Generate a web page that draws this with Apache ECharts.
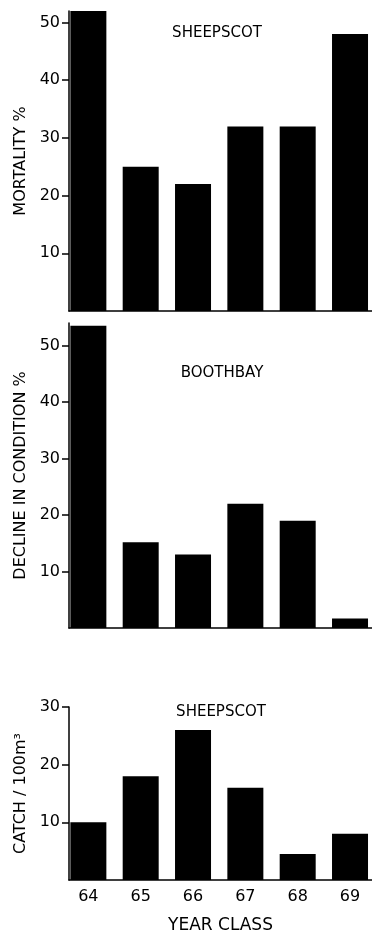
<!DOCTYPE html>
<html>
<head>
<meta charset="utf-8">
<script src="https://cdn.jsdelivr.net/npm/echarts@6/dist/echarts.min.js"></script>
<style>
  html, body { margin: 0; padding: 0; background: #fff; }
  #chart { width: 372px; height: 935px; }
</style>
</head>
<body>
<div id="chart"></div>
<script>
// year classes (x)
const yearClass = [64, 65, 66, 67, 68, 69];

// panel values
const mortalitySheepscot = [52, 25, 22, 32, 32, 48];
const declineBoothbay = [53.5, 15.2, 13, 22, 19, 1.7];
const catchSheepscot = [10, 18, 26, 16, 4.5, 8];

// tick labels
const pctTicks = [10, 20, 30, 40, 50];
const catchTicks = [10, 20, 30];

const panelTitles = ['SHEEPSCOT', 'BOOTHBAY', 'SHEEPSCOT'];
const yNames = ['MORTALITY %', 'DECLINE IN CONDITION %', 'CATCH / 100m³'];

const font = 'DejaVu Sans';
const ink = '#000';

const chart = echarts.init(document.getElementById('chart'), null, { renderer: 'canvas' });

function pairs(vals) {
  return yearClass.map((y, i) => [y, vals[i]]);
}

function xAxis(idx, showLabels) {
  return {
    type: 'value',
    gridIndex: idx,
    min: 63.63,
    max: 69.42,
    axisLine: { show: true, onZero: false, lineStyle: { color: ink, width: 1.5 } },
    axisTick: { show: false },
    splitLine: { show: false },
    axisLabel: {
      show: showLabels,
      customValues: yearClass,
      color: ink,
      fontFamily: font,
      fontSize: 16,
      margin: 9
    },
    name: showLabels ? 'YEAR CLASS' : '',
    nameLocation: 'middle',
    nameGap: 37,
    nameTextStyle: { color: ink, fontFamily: font, fontSize: 17 }
  };
}

function yAxis(idx, max, ticks, name) {
  return {
    type: 'value',
    gridIndex: idx,
    min: 0,
    max: max,
    axisLine: { show: true, lineStyle: { color: ink, width: 1.5 } },
    axisTick: { show: true, length: 7, customValues: ticks, lineStyle: { color: ink, width: 1.5 } },
    axisLabel: { customValues: ticks, color: ink, fontFamily: font, fontSize: 16, margin: 9 },
    splitLine: { show: false },
    name: name,
    nameLocation: 'middle',
    nameGap: 40,
    nameTextStyle: { color: ink, fontFamily: font, fontSize: 16 }
  };
}

function barSeries(idx, vals) {
  return {
    type: 'bar',
    xAxisIndex: idx,
    yAxisIndex: idx,
    data: pairs(vals),
    barWidth: 36,
    itemStyle: { color: ink },
    silent: true
  };
}

function panelTitle(text, left, top) {
  return {
    text: text, left: left, top: top, textAlign: 'center',
    textStyle: { fontFamily: font, fontSize: 15, fontWeight: 'normal', color: ink }
  };
}

const option = {
  backgroundColor: '#fff',
  animation: false,
  title: [
    panelTitle(panelTitles[0], 212, 21),
    panelTitle(panelTitles[1], 217, 361),
    panelTitle(panelTitles[2], 216, 700)
  ],
  grid: [
    { left: 69, right: 0, top: 11, bottom: 624 },
    { left: 69, right: 0, top: 323, bottom: 307 },
    { left: 69, right: 0, top: 707, bottom: 52 }
  ],
  xAxis: [xAxis(0, false), xAxis(1, false), xAxis(2, true)],
  yAxis: [
    yAxis(0, 52, pctTicks, yNames[0]),
    yAxis(1, 54, pctTicks, yNames[1]),
    yAxis(2, 30, catchTicks, yNames[2])
  ],
  series: [
    barSeries(0, mortalitySheepscot),
    barSeries(1, declineBoothbay),
    barSeries(2, catchSheepscot)
  ]
};

chart.setOption(option);
</script>
</body>
</html>
